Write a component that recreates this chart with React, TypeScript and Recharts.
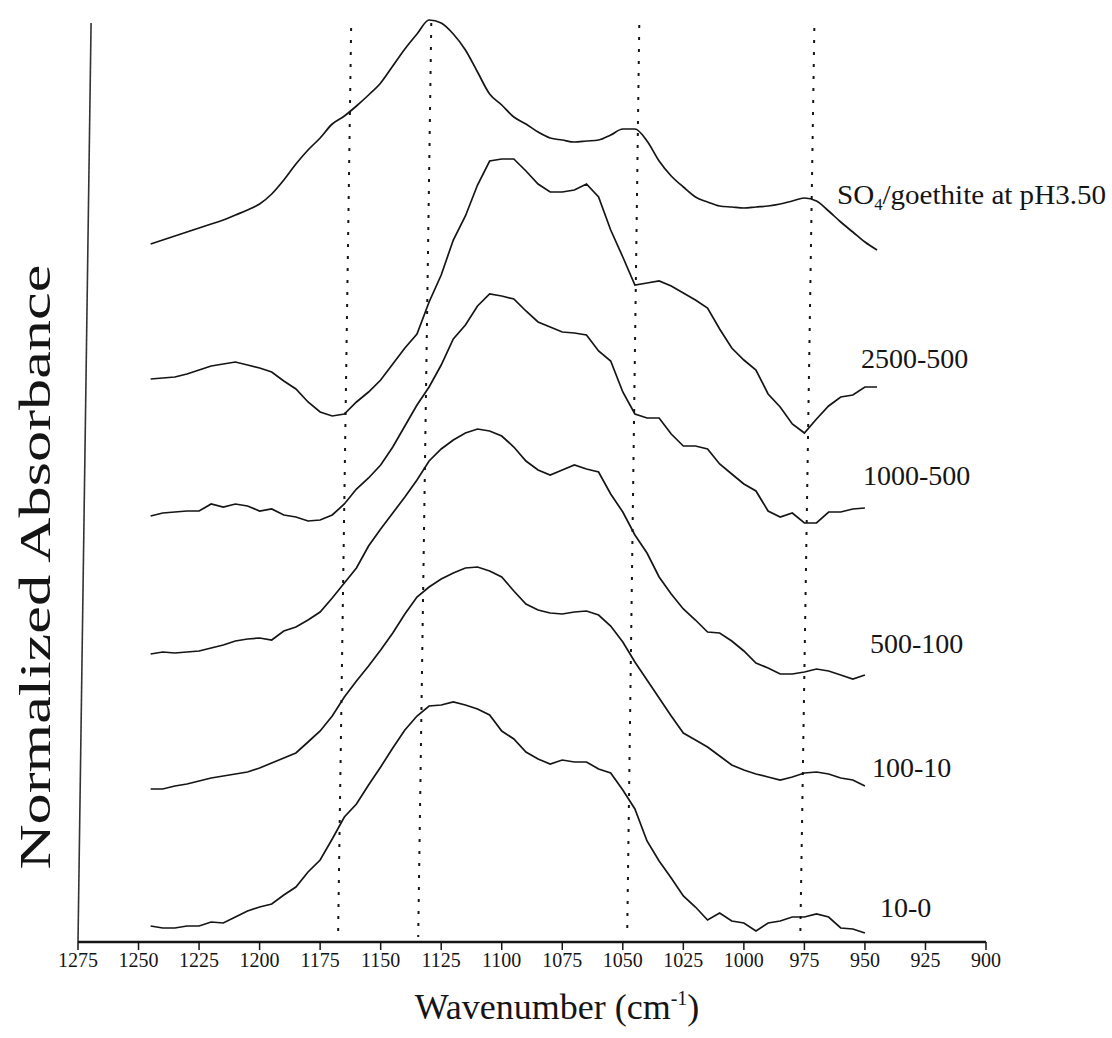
import React from 'react';
import { LineChart, Line, XAxis, YAxis, ReferenceLine } from 'recharts';

// wavenumber grid (cm-1) shared by all spectra
const wavenumbers = [
  1245, 1240, 1235, 1230, 1225, 1220, 1215, 1210, 1205, 1200,
  1195, 1190, 1185, 1180, 1175, 1170, 1165, 1160, 1155, 1150,
  1145, 1140, 1135, 1130, 1125, 1120, 1115, 1110, 1105, 1100,
  1095, 1090, 1085, 1080, 1075, 1070, 1065, 1060, 1055, 1050,
  1045, 1040, 1035, 1030, 1025, 1020, 1015, 1010, 1005, 1000,
  995, 990, 985, 980, 975, 970, 965, 960, 955, 950, 945,
];

// stacked, offset absorbance (arbitrary units)
const so4Goethite = [
  6.98, 7.02, 7.06, 7.1, 7.14, 7.18, 7.22, 7.27, 7.32, 7.38,
  7.48, 7.62, 7.78, 7.92, 8.04, 8.18, 8.26, 8.36, 8.47, 8.59,
  8.76, 8.93, 9.08, 9.22, 9.19, 9.08, 8.92, 8.7, 8.48, 8.37,
  8.25, 8.18, 8.1, 8.04, 8.02, 8.0, 8.01, 8.02, 8.07, 8.13,
  8.13, 8.01, 7.81, 7.66, 7.55, 7.45, 7.4, 7.36, 7.35, 7.34,
  7.35, 7.36, 7.38, 7.41, 7.44, 7.41, 7.31, 7.2, 7.1, 7.0, 6.92,
];

const diff2500_500 = [
  5.63, 5.64, 5.65, 5.68, 5.72, 5.76, 5.78, 5.8, 5.77, 5.74,
  5.7, 5.61, 5.53, 5.4, 5.3, 5.26, 5.28, 5.4, 5.5, 5.62,
  5.78, 5.94, 6.08, 6.4, 6.67, 7.02, 7.26, 7.57, 7.81, 7.83,
  7.83, 7.71, 7.58, 7.5, 7.5, 7.52, 7.58, 7.45, 7.12, 6.85,
  6.57, 6.59, 6.61, 6.56, 6.49, 6.42, 6.34, 6.13, 5.94, 5.82,
  5.72, 5.48, 5.35, 5.18, 5.09, 5.23, 5.36, 5.45, 5.47, 5.55, 5.55,
];

const diff1000_500 = [
  4.26, 4.29, 4.3, 4.31, 4.31, 4.38, 4.35, 4.38, 4.36, 4.31,
  4.33, 4.27, 4.25, 4.21, 4.22, 4.27, 4.38, 4.53, 4.64, 4.77,
  4.95, 5.16, 5.37, 5.55, 5.77, 6.03, 6.17, 6.36, 6.48, 6.46,
  6.43, 6.31, 6.2, 6.15, 6.1, 6.09, 6.07, 5.91, 5.81, 5.5,
  5.28, 5.24, 5.24, 5.08, 4.96, 4.96, 4.93, 4.78, 4.68, 4.58,
  4.51, 4.31, 4.25, 4.29, 4.19, 4.19, 4.3, 4.3, 4.33, 4.34,
];

const diff500_100 = [
  2.88, 2.9, 2.89, 2.9, 2.91, 2.94, 2.97, 3.01, 3.03, 3.04,
  3.02, 3.11, 3.15, 3.22, 3.3, 3.44, 3.59, 3.74, 3.96, 4.13,
  4.29, 4.45, 4.62, 4.81, 4.93, 5.02, 5.09, 5.13, 5.11, 5.06,
  4.95, 4.81, 4.72, 4.67, 4.72, 4.77, 4.73, 4.7, 4.48, 4.3,
  4.07, 3.89, 3.65, 3.48, 3.33, 3.22, 3.1, 3.09, 3.01, 2.91,
  2.79, 2.74, 2.68, 2.68, 2.7, 2.73, 2.71, 2.67, 2.63, 2.67,
];

const diff100_10 = [
  1.53, 1.53, 1.56, 1.58, 1.61, 1.64, 1.66, 1.68, 1.7, 1.74,
  1.79, 1.84, 1.89, 2.0, 2.11, 2.26, 2.45, 2.61, 2.76, 2.92,
  3.09, 3.28, 3.45, 3.55, 3.63, 3.69, 3.74, 3.75, 3.71, 3.65,
  3.51, 3.38, 3.32, 3.29, 3.28, 3.3, 3.31, 3.27, 3.16, 3.0,
  2.8, 2.62, 2.44, 2.26, 2.09, 2.02, 1.95, 1.86, 1.77, 1.72,
  1.68, 1.65, 1.62, 1.65, 1.69, 1.7, 1.68, 1.64, 1.62, 1.56,
];

const diff10_0 = [
  0.16, 0.14, 0.14, 0.16, 0.16, 0.2, 0.19, 0.25, 0.31, 0.35,
  0.38, 0.47, 0.55, 0.7, 0.82, 1.03, 1.25, 1.38, 1.57, 1.75,
  1.94, 2.12, 2.26, 2.36, 2.37, 2.4, 2.37, 2.33, 2.27, 2.11,
  2.03, 1.9, 1.83, 1.78, 1.82, 1.8, 1.8, 1.73, 1.69, 1.52,
  1.33, 1.01, 0.81, 0.64, 0.46, 0.35, 0.22, 0.29, 0.21, 0.19,
  0.11, 0.19, 0.21, 0.25, 0.25, 0.28, 0.25, 0.14, 0.13, 0.09,
];

const xTicks = [1275, 1250, 1225, 1200, 1175, 1150, 1125, 1100, 1075, 1050, 1025, 1000, 975, 950, 925, 900];

// band positions marked with dotted lines (wavenumber at top / bottom of the plot)
const bandLines = [
  { top: 1162.2, bottom: 1167.6, yTop: 9.14 },
  { top: 1129.1, bottom: 1134.5, yTop: 9.19 },
  { top: 1043.2, bottom: 1048.2, yTop: 9.17 },
  { top: 970.9, bottom: 976.7, yTop: 9.14 },
];

const rows = wavenumbers.map((wn, i) => ({
  wn,
  so4: so4Goethite[i] ?? null,
  d2500: diff2500_500[i] ?? null,
  d1000: diff1000_500[i] ?? null,
  d500: diff500_100[i] ?? null,
  d100: diff100_10[i] ?? null,
  d10: diff10_0[i] ?? null,
}));

const FONT = "'Liberation Serif', 'Times New Roman', serif";
const INK = '#151515';

const WaveTick = ({ x, y, payload }: any) => (
  <text x={x} y={y} dy="0.71em" textAnchor="middle" fontSize={20} fontFamily={FONT} fill={INK}>
    {payload.value}
  </text>
);

const lineProps = {
  type: 'linear' as const,
  stroke: INK,
  strokeWidth: 1.7,
  dot: false,
  activeDot: false,
  isAnimationActive: false,
  connectNulls: false,
};

export default function App() {
  return (
    <div style={{ position: 'absolute', left: 0, top: 0, width: 1112, height: 1038, background: '#fff' }}>
      <LineChart width={1112} height={1038} data={rows} margin={{ top: 15, right: 126, bottom: 56, left: 78 }}>
        <XAxis
          dataKey="wn"
          type="number"
          domain={[900, 1275]}
          reversed
          ticks={xTicks}
          interval={0}
          tick={WaveTick}
          tickSize={8}
          tickMargin={3}
          tickLine={{ stroke: INK, strokeWidth: 1.5 }}
          axisLine={{ stroke: INK, strokeWidth: 2.5 }}
          height={40}
          allowDataOverflow
        />
        <YAxis type="number" domain={[0, 9.27]} hide allowDataOverflow />

        {/* left frame line */}
        <ReferenceLine
          segment={[{ x: 1269.6, y: 9.19 }, { x: 1275, y: 0 }]}
          stroke="#333"
          strokeWidth={1.6}
          ifOverflow="visible"
        />

        {bandLines.map((b) => (
          <ReferenceLine
            key={b.top}
            segment={[{ x: b.top, y: b.yTop }, { x: b.bottom, y: 0.05 }]}
            stroke={INK}
            strokeWidth={2}
            strokeDasharray="3 9"
            ifOverflow="visible"
          />
        ))}

        <Line dataKey="so4" {...lineProps} type="monotone" />
        <Line dataKey="d2500" {...lineProps} />
        <Line dataKey="d1000" {...lineProps} />
        <Line dataKey="d500" {...lineProps} />
        <Line dataKey="d100" {...lineProps} />
        <Line dataKey="d10" {...lineProps} />
      </LineChart>

      <svg
        width={1112}
        height={1038}
        style={{ position: 'absolute', left: 0, top: 0, pointerEvents: 'none' }}
        fontFamily={FONT}
        fill={INK}
      >
        <text
          transform="translate(50,567) rotate(-90)"
          textAnchor="middle"
          fontSize={44}
          textLength={605}
          lengthAdjust="spacingAndGlyphs"
        >
          Normalized Absorbance
        </text>
        <text x={557} y={1019} textAnchor="middle" fontSize={36}>
          Wavenumber (cm
          <tspan dy={-14} fontSize={20}>-1</tspan>
          <tspan dy={14}>)</tspan>
        </text>

        <text x={837} y={204} fontSize={28} textLength={269} lengthAdjust="spacingAndGlyphs">
          SO<tspan dy={6} fontSize={16}>4</tspan>
          <tspan dy={-6}>/goethite at pH3.50</tspan>
        </text>
        <text x={861} y={368} fontSize={28}>2500-500</text>
        <text x={863} y={485} fontSize={28}>1000-500</text>
        <text x={870} y={653} fontSize={28}>500-100</text>
        <text x={872} y={777} fontSize={28}>100-10</text>
        <text x={880} y={917} fontSize={28}>10-0</text>
      </svg>
    </div>
  );
}
